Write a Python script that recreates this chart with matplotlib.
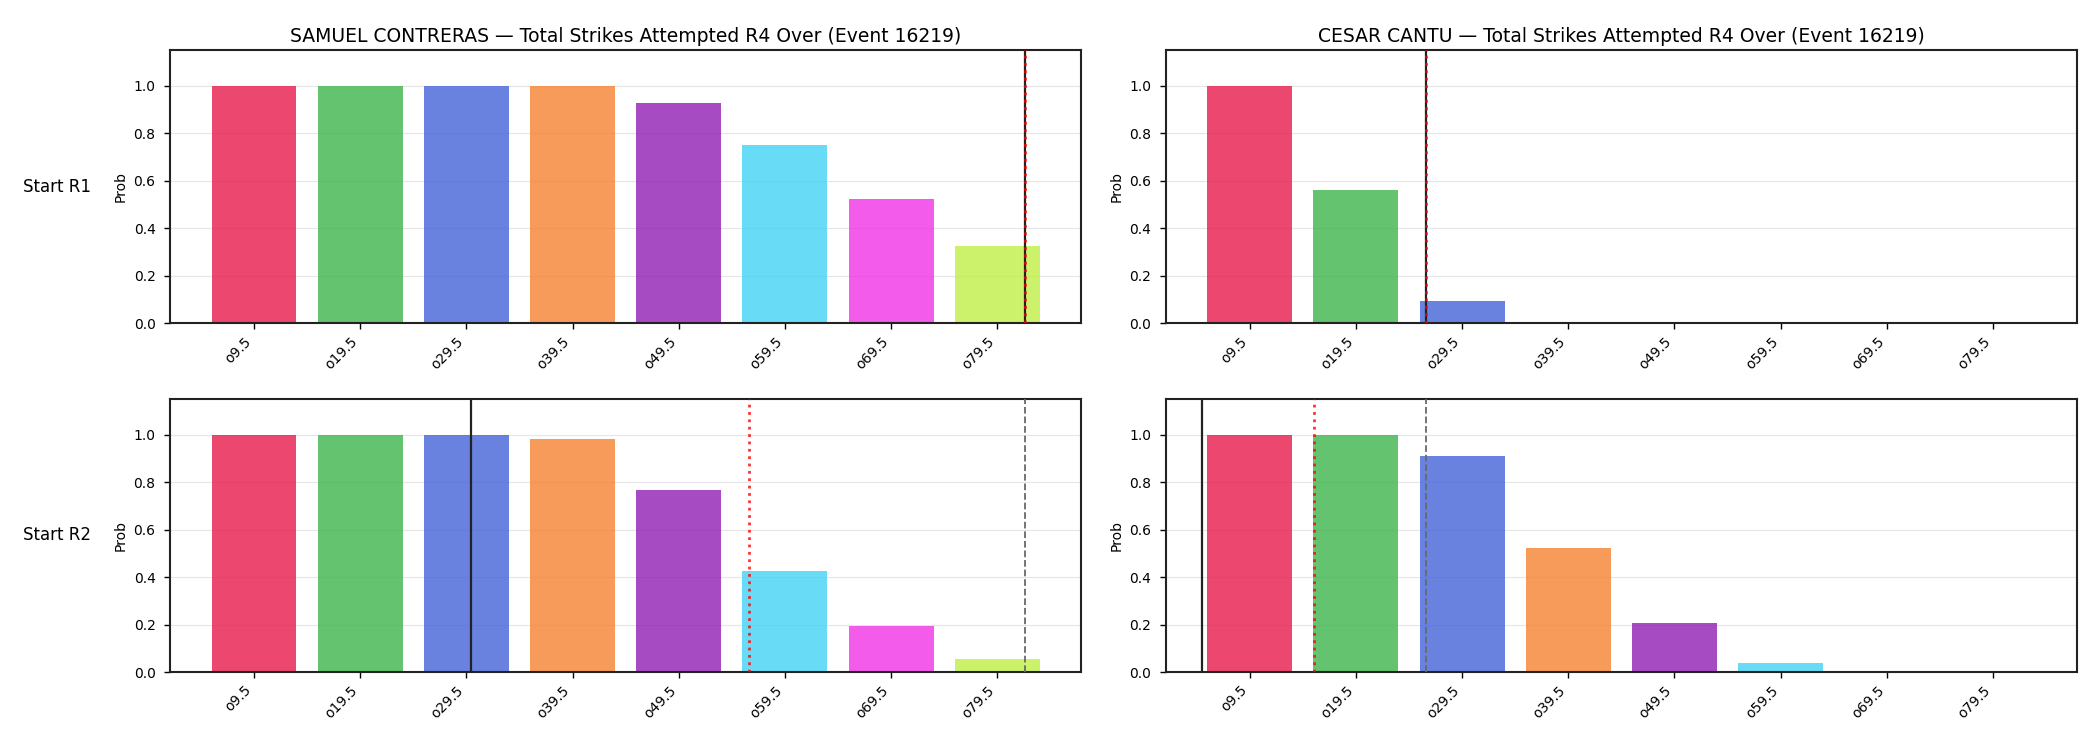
import matplotlib.pyplot as plt
import numpy as np

# thresholds shown on the x axis
lines = ['o9.5', 'o19.5', 'o29.5', 'o39.5', 'o49.5', 'o59.5', 'o69.5', 'o79.5']
thresholds = [9.5, 19.5, 29.5, 39.5, 49.5, 59.5, 69.5, 79.5]

fighters = ['SAMUEL CONTRERAS', 'CESAR CANTU']
rows = ['Start R1', 'Start R2']

# over probabilities, [fighter][row]
contreras_r1 = [1.0, 1.0, 1.0, 1.0, 0.926, 0.75, 0.523, 0.324]
contreras_r2 = [1.0, 1.0, 1.0, 0.983, 0.767, 0.426, 0.195, 0.053]
cantu_r1 = [0.998, 0.563, 0.092, 0.003, 0.0, 0.0, 0.0, 0.0]
cantu_r2 = [1.0, 0.998, 0.909, 0.523, 0.205, 0.037, 0.002, 0.0]

# marker lines (in strikes): current, projected, R1 projection
contreras_current = [82.1, 29.9]
contreras_proj = [82.1, 56.1]
contreras_r1proj = [82.1, 82.1]
cantu_current = [26.1, 5.0]
cantu_proj = [26.1, 15.55]
cantu_r1proj = [26.1, 26.1]

colors = ['#e6194B', '#3cb44b', '#4363d8', '#f58231',
          '#911eb4', '#42d4f4', '#f032e6', '#bfef45']


def to_idx(v):
    # map a strike count onto the bar index axis
    return (v - thresholds[0]) / (thresholds[1] - thresholds[0])


def draw_panel(ax, probs, cur, proj, r1p):
    x = np.arange(len(lines))
    ax.bar(x, probs, color=colors, alpha=0.8, width=0.8, zorder=2)
    ax.axvline(to_idx(r1p), color='dimgray', ls='--', lw=1.3, zorder=3)
    ax.axvline(to_idx(cur), color='#222222', ls='-', lw=1.6, zorder=4)
    ax.axvline(to_idx(proj), color='red', ls=':', lw=2, alpha=0.8, zorder=5)
    ax.set_xticks(x)
    ax.set_xticklabels(lines, rotation=45, ha='right')
    ax.set_ylim(0, 1.15)
    ax.set_ylabel('Prob')
    ax.grid(axis='y', color='#e6e6e6', lw=0.8, zorder=0)
    ax.set_axisbelow(True)
    ax.tick_params(length=4.5, width=1)
    ax.tick_params(axis='y', pad=6)
    for s in ax.spines.values():
        s.set_linewidth(1.5)
        s.set_color('#222222')


def main():
    fig, axes = plt.subplots(2, 2, figsize=(21, 7.5), dpi=100)
    fig.subplots_adjust(left=0.081, right=0.989, top=0.933, bottom=0.104,
                        wspace=0.093, hspace=0.277)
    data = [[contreras_r1, cantu_r1], [contreras_r2, cantu_r2]]
    cur = [contreras_current, cantu_current]
    proj = [contreras_proj, cantu_proj]
    r1p = [contreras_r1proj, cantu_r1proj]
    for r in range(2):
        for c in range(2):
            ax = axes[r][c]
            draw_panel(ax, data[r][c], cur[c][r], proj[c][r], r1p[c][r])
            if r == 0:
                ax.set_title(fighters[c] + ' \u2014 Total Strikes Attempted R4 Over (Event 16219)',
                             fontsize=13.5)
        pos = axes[r][0].get_position()
        fig.text(0.011, (pos.y0 + pos.y1) / 2, rows[r], ha='left', va='center',
                 fontsize=12)
    fig.savefig('out.png', dpi=100)


if __name__ == "__main__":
    main()
